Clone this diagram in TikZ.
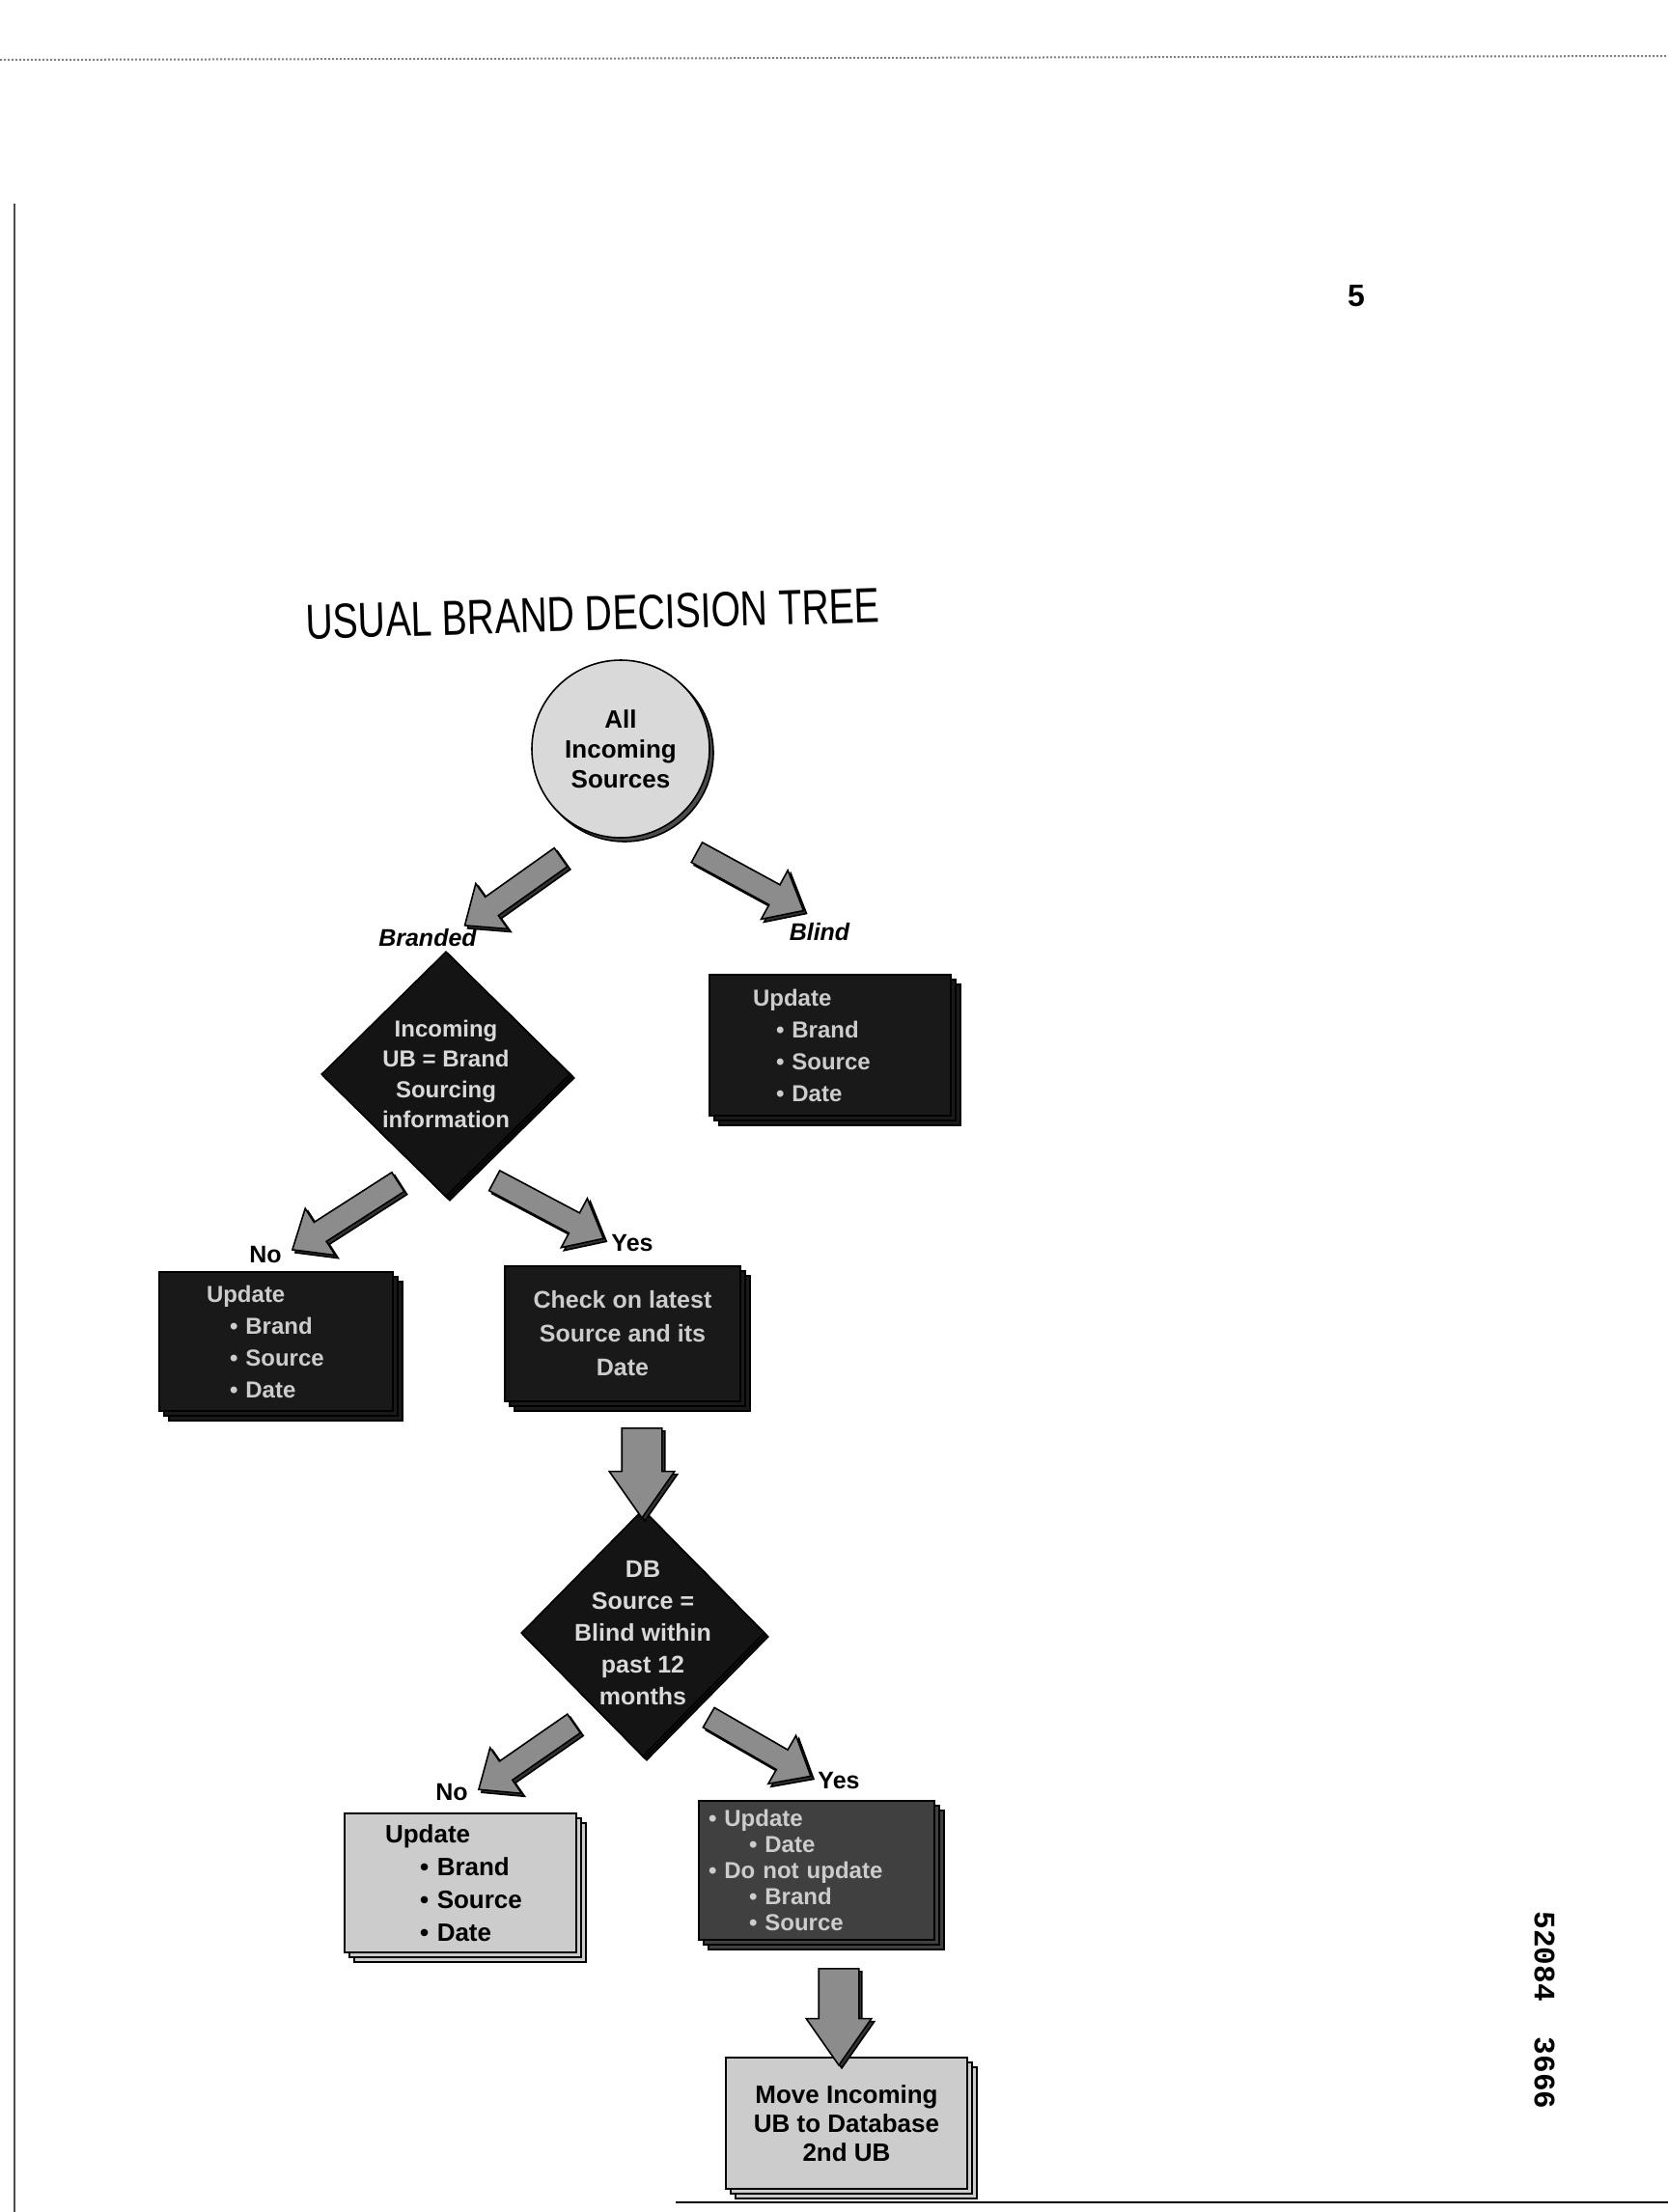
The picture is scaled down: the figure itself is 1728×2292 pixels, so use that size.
\documentclass[tikz,border=0pt]{standalone}
\usepackage{fontspec}
\usepackage{graphicx}
\setmainfont{Liberation Sans}
\setmonofont{Liberation Mono}
\usetikzlibrary{shapes.geometric}
\usetikzlibrary{shapes.arrows}
\usetikzlibrary{shadows}
\tikzstyle{page}=[x=0.5pt, y=-0.5pt]
\tikzstyle{src}=[circle, draw, thick, fill=black!15, minimum size=92pt, inner sep=0pt, align=center, font=\bfseries\fontsize{13}{15.5}\selectfont, copy shadow={shadow xshift=2pt, shadow yshift=-2pt, fill=black!70}]
\tikzstyle{q}=[diamond, draw, thick, fill=black!92, inner sep=0pt, double copy shadow={shadow xshift=1pt, shadow yshift=-1pt}]
\tikzstyle{qtxt}=[align=center, text=white!85!black, font=\bfseries\fontsize{12}{15.8}\selectfont]
\tikzstyle{box}=[rectangle, draw, thick, inner sep=0pt, minimum width=122pt, minimum height=72pt, double copy shadow={shadow xshift=2.5pt, shadow yshift=-2.5pt}]
\tikzstyle{dark}=[box, fill=black!90, text=white!80!black, font=\bfseries\fontsize{12}{16.5}\selectfont]
\tikzstyle{light}=[box, fill=black!20, text=black, font=\bfseries\fontsize{13}{17}\selectfont]
\tikzstyle{fat}=[single arrow, draw, thick, fill=black!45, inner sep=5.5pt, single arrow head extend=8.5pt, single arrow tip angle=80, single arrow head indent=0pt, copy shadow={shadow xshift=1.5pt, shadow yshift=-1.5pt, fill=black!80}]
\tikzstyle{fatdown}=[fat, inner sep=10pt, single arrow head extend=6.5pt, single arrow tip angle=70]
\tikzstyle{branch}=[font=\bfseries\itshape\fontsize{12.5}{14}\selectfont]
\tikzstyle{yn}=[font=\bfseries\fontsize{12.5}{14}\selectfont]
\begin{document}
\begin{tikzpicture}[page]
	\useasboundingbox[fill=white] (0,0) rectangle (1728,2292);
	% edges of the scanned sheet
	\draw[black!70, line width=1pt] (15,211) -- (15,2292);
	\draw[black!50, densely dotted, line width=1pt] (0,62) -- (1728,58);
	\draw[line width=1pt] (700,2282) -- (1728,2282);
	\draw (1405,307) node[font=\bfseries\fontsize{16}{18}\selectfont] (pgnum) {5};
	\draw (614,636) node[rotate=1.7, font=\fontsize{19.6}{22}\selectfont] (title) {\scalebox{1}[1.3]{USUAL BRAND DECISION TREE}};
	\draw (1600,2083) node[rotate=-90, font=\ttfamily\bfseries\fontsize{15.5}{17}\selectfont] (docid) {52084\ \ 3666};
	% tree
	\draw (643,776) node[src] (all) {All\\Incoming\\Sources};
	\draw (462,1113) node[q, minimum width=129pt, minimum height=127pt, label={[qtxt, name=q1txt]center:{Incoming\\UB = Brand\\Sourcing\\information}}] (q1) {};
	\draw (860,1083) node[dark, minimum width=125pt, minimum height=73pt, align=left, text width=80pt] (blind) {Update\\\hspace*{12pt}\textbullet~Brand\\\hspace*{12pt}\textbullet~Source\\\hspace*{12pt}\textbullet~Date};
	\draw (286,1390) node[dark, minimum width=121pt, align=left, text width=72pt] (upd1) {Update\\\hspace*{12pt}\textbullet~Brand\\\hspace*{12pt}\textbullet~Source\\\hspace*{12pt}\textbullet~Date};
	\draw (645,1382) node[dark, minimum height=70pt, align=center, font=\bfseries\fontsize{12.5}{17.5}\selectfont] (chk) {Check on latest\\Source and its\\Date};
	\draw (666,1692) node[q, minimum width=126pt, minimum height=128pt, label={[qtxt, name=q2txt, font=\bfseries\fontsize{12.5}{16.5}\selectfont]center:{DB\\Source =\\Blind within\\past 12\\months}}] (q2) {};
	\draw (477,1951) node[light, minimum width=120pt, align=left, text width=78pt] (upd2) {Update\\\hspace*{18pt}\textbullet~Brand\\\hspace*{18pt}\textbullet~Source\\\hspace*{18pt}\textbullet~Date};
	\draw (846,1938) node[dark, fill=black!75, align=left, text width=112pt, font=\bfseries\fontsize{12}{13.5}\selectfont] (keep) {\textbullet~Update\\\hspace*{21pt}\textbullet~Date\\\textbullet~Do not update\\\hspace*{21pt}\textbullet~Brand\\\hspace*{21pt}\textbullet~Source};
	\draw (877,2200) node[light, minimum width=125pt, minimum height=68pt, align=center, font=\bfseries\fontsize{13}{15}\selectfont] (move) {Move Incoming\\UB to Database\\2nd UB};
	% labels
	\draw (443,972) node[branch] (lbranded) {Branded};
	\draw (849,966) node[branch] (lblind) {Blind};
	\draw (275,1300) node[yn] (lno1) {No};
	\draw (655,1288) node[yn] (lyes1) {Yes};
	\draw (468,1857) node[yn] (lno2) {No};
	\draw (869,1845) node[yn] (lyes2) {Yes};
	% block arrows
	\coordinate (a1) at (587,884); \coordinate (a2) at (487,955);
	\coordinate (b1) at (716,880); \coordinate (b2) at (826,940);
	\coordinate (c1) at (418,1221); \coordinate (c2) at (309,1291);
	\coordinate (d1) at (506,1220); \coordinate (d2) at (619,1280);
	\coordinate (e1) at (665,1465); \coordinate (e2) at (665,1558);
	\coordinate (f1) at (600,1782); \coordinate (f2) at (502,1850);
	\coordinate (g1) at (728,1776); \coordinate (g2) at (834,1837);
	\coordinate (h1) at (869,2025); \coordinate (h2) at (869,2125);
	\path (a1) -- (a2) node[fat, midway, sloped, allow upside down, minimum height=61pt] (arrbranded) {};
	\path (b1) -- (b2) node[fat, midway, sloped, allow upside down, minimum height=63pt] (arrblind) {};
	\path (c1) -- (c2) node[fat, midway, sloped, allow upside down, minimum height=65pt] (arrno1) {};
	\path (d1) -- (d2) node[fat, midway, sloped, allow upside down, minimum height=64pt] (arryes1) {};
	\path (e1) -- (e2) node[fatdown, midway, sloped, allow upside down, minimum height=46.5pt] (arrchk) {};
	\path (f1) -- (f2) node[fat, midway, sloped, allow upside down, minimum height=60pt] (arrno2) {};
	\path (g1) -- (g2) node[fat, midway, sloped, allow upside down, minimum height=61pt] (arryes2) {};
	\path (h1) -- (h2) node[fatdown, midway, sloped, allow upside down, minimum height=50pt] (arrmove) {};
\end{tikzpicture}
\end{document}
